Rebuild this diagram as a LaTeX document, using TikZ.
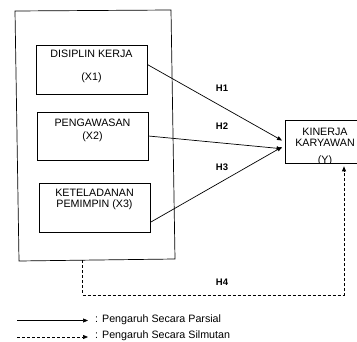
\documentclass[tikz,border=0pt]{standalone}
\usepackage{fontspec}
\setmainfont{Liberation Sans}
\usetikzlibrary{arrows.meta,calc}
\begin{document}
\begin{tikzpicture}[x=1pt,y=-1pt,
  box/.style={draw,line width=0.7pt,inner sep=0pt},
  lbl/.style={font=\fontsize{10.7}{12}\selectfont,inner sep=0pt,anchor=base},
  hl/.style={font=\bfseries\fontsize{9.5}{11}\selectfont,inner sep=0pt,anchor=base},
  arr/.style={line width=0.7pt,-{Triangle[length=5pt,width=4pt]}},
  darr/.style={arr,dash pattern=on 3pt off 2pt}]
\useasboundingbox (0,0) rectangle (357,342);
\clip (0,0) rectangle (357,342);
% outer frame
\draw[line width=0.7pt] (15,11) -- (171,10) -- (175,259) -- (19,261) -- cycle;
\coordinate (h4s) at (82,260.5);
% boxes
\node[box,minimum width=111pt,minimum height=49pt] (x1) at (91.5,69.5) {};
\node[lbl] (t1a) at (91.5,58) {DISIPLIN KERJA};
\node[lbl] (t1b) at (91.5,81) {(X1)};
\node[box,minimum width=111pt,minimum height=48pt] (x2) at (92.5,136) {};
\node[lbl] (t2a) at (92.5,126.5) {PENGAWASAN};
\node[lbl] (t2b) at (92.5,139.5) {(X2)};
\node[box,minimum width=111pt,minimum height=49pt] (x3) at (94.5,207.5) {};
\node[lbl] (t3a) at (94.5,196.5) {KETELADANAN};
\node[lbl] (t3b) at (94.5,208) {PEMIMPIN (X3)};
% Y box
\node[box,minimum width=80pt,minimum height=43pt] (y) at (325,141.5) {};
\node[lbl] (tya) at (325,135.5) {KINERJA};
\node[lbl] (tyb) at (325,147) {KARYAWAN};
\begin{scope}
  \clip (y.north west) rectangle (y.south east);
  \node[lbl] (tyc) at (325,163.5) {(Y)};
\end{scope}
% arrows
\draw[arr,shorten >=3pt] ([yshift=5pt]x1.east) -- ([yshift=-0.5pt]y.west);
\draw[arr,shorten >=3pt] (x2.east) -- ([yshift=-7.5pt]y.west);
\draw[arr,shorten >=3pt] ([yshift=10pt]x3.south east) -- ([yshift=-4pt]y.west);
\node[hl] (h1) at (222,92) {H1};
\node[hl] (h2) at (222,130) {H2};
\node[hl] (h3) at (222,171) {H3};
% H4
\coordinate (h4c) at (344,295);
\draw[darr,shorten >=3pt] (h4s) |- (h4c) -- (h4c |- y.south);
\node[hl] (h4) at (222,286) {H4};
% legend
\coordinate (l1a) at (17,320.5);
\coordinate (l1b) at (88,320.5);
\coordinate (l2a) at (17,337);
\coordinate (l2b) at (88,337);
\draw[arr] (l1a) -- (l1b);
\draw[darr] (l2a) -- (l2b);
\node[lbl,anchor=base west] (lg1) at (95,322.5) {: Pengaruh Secara Parsial};
\node[lbl,anchor=base west] (lg2) at (95,339) {: Pengaruh Secara Silmutan};
\end{tikzpicture}
\end{document}
